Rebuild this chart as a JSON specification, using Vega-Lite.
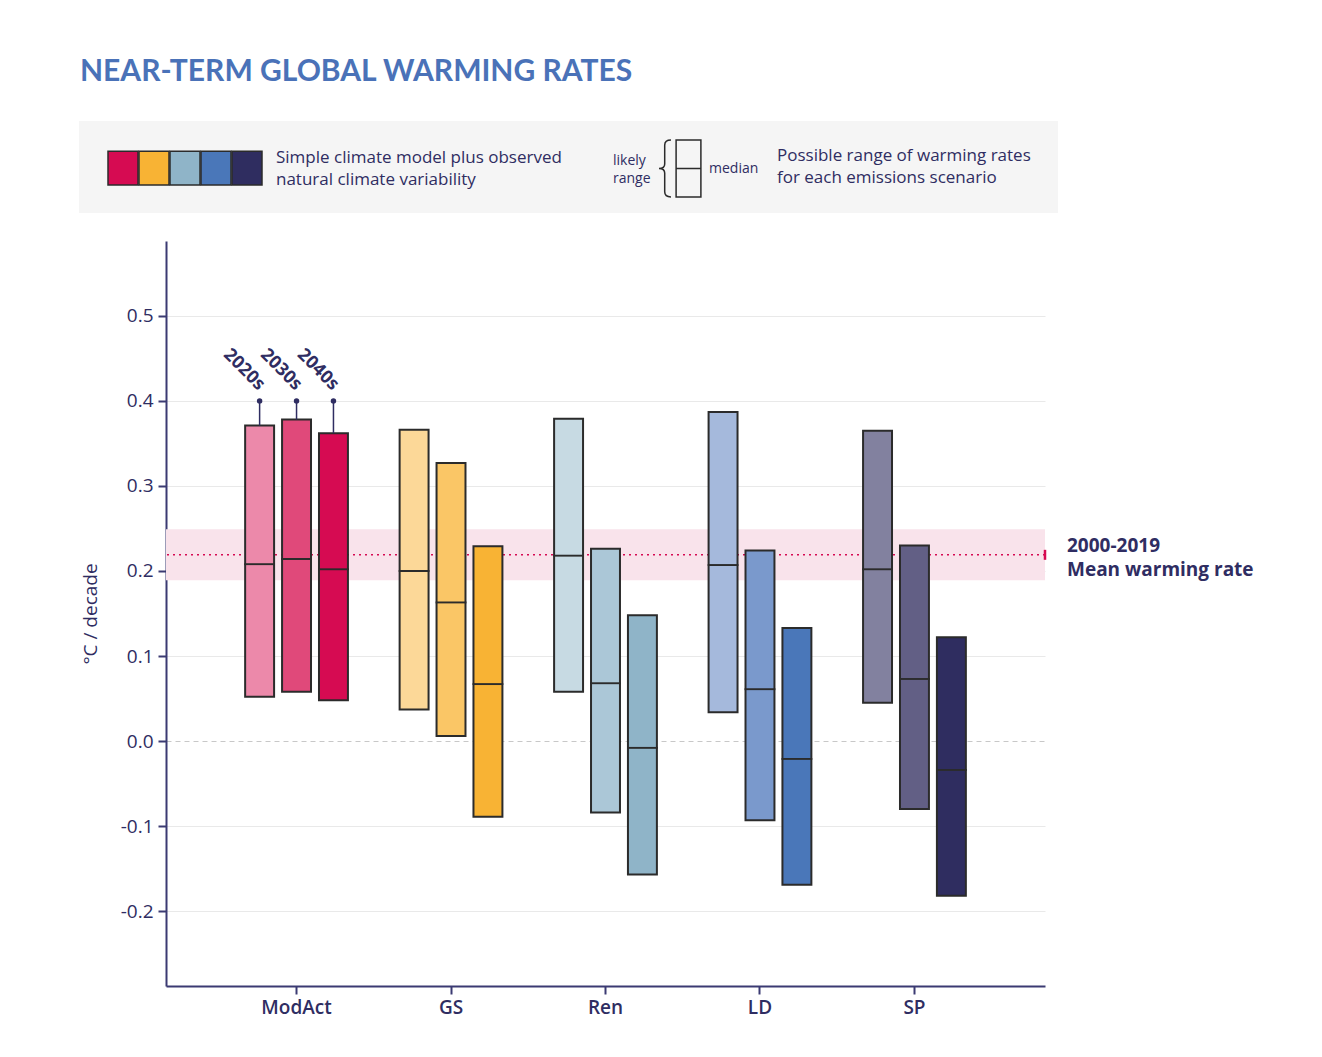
{
  "$schema": "https://vega.github.io/schema/vega-lite/v6.json",
  "width": 879,
  "height": 745,
  "autosize": {"type": "none"},
  "padding": {"left": 166, "top": 241, "right": 277, "bottom": 71},
  "background": "white",
  "config": {"view": {"stroke": null}, "font": "Open Sans"},
  "title": {
    "text": "NEAR-TERM GLOBAL WARMING RATES",
    "anchor": "start",
    "frame": "group",
    "dx": -86,
    "offset": 10,
    "font": "Lato",
    "fontSize": 30,
    "fontWeight": "bold",
    "color": "#4a72b8",
    "baseline": "alphabetic"
  },
  "data": {
    "values": [
      {"scenario": "ModAct", "decade": "2020s", "group": "ModAct 2020s", "lo": 0.052, "hi": 0.371, "med": 0.208},
      {"scenario": "ModAct", "decade": "2030s", "group": "ModAct 2030s", "lo": 0.058, "hi": 0.378, "med": 0.214},
      {"scenario": "ModAct", "decade": "2040s", "group": "ModAct 2040s", "lo": 0.048, "hi": 0.362, "med": 0.202},
      {"scenario": "GS", "decade": "2020s", "group": "GS 2020s", "lo": 0.037, "hi": 0.366, "med": 0.200},
      {"scenario": "GS", "decade": "2030s", "group": "GS 2030s", "lo": 0.006, "hi": 0.327, "med": 0.163},
      {"scenario": "GS", "decade": "2040s", "group": "GS 2040s", "lo": -0.089, "hi": 0.229, "med": 0.067},
      {"scenario": "Ren", "decade": "2020s", "group": "Ren 2020s", "lo": 0.058, "hi": 0.379, "med": 0.218},
      {"scenario": "Ren", "decade": "2030s", "group": "Ren 2030s", "lo": -0.084, "hi": 0.226, "med": 0.068},
      {"scenario": "Ren", "decade": "2040s", "group": "Ren 2040s", "lo": -0.157, "hi": 0.148, "med": -0.008},
      {"scenario": "LD", "decade": "2020s", "group": "LD 2020s", "lo": 0.034, "hi": 0.387, "med": 0.207},
      {"scenario": "LD", "decade": "2030s", "group": "LD 2030s", "lo": -0.093, "hi": 0.224, "med": 0.061},
      {"scenario": "LD", "decade": "2040s", "group": "LD 2040s", "lo": -0.169, "hi": 0.133, "med": -0.021},
      {"scenario": "SP", "decade": "2020s", "group": "SP 2020s", "lo": 0.045, "hi": 0.365, "med": 0.202},
      {"scenario": "SP", "decade": "2030s", "group": "SP 2030s", "lo": -0.080, "hi": 0.230, "med": 0.073},
      {"scenario": "SP", "decade": "2040s", "group": "SP 2040s", "lo": -0.182, "hi": 0.122, "med": -0.034}
    ]
  },
  "layer": [
    {
      "data": {"values": [{"label": "2000-2019 mean warming rate range"}]},
      "mark": {"type": "rect"},
      "encoding": {
        "y": {"datum": 0.189, "type": "quantitative", "scale": {"domain": [-0.288, 0.588], "nice": false, "zero": false}},
        "y2": {"datum": 0.249},
        "fill": {
          "datum": "band",
          "scale": {"range": ["#f9e3eb"]},
          "legend": {
            "orient": "none",
            "legendX": -87,
            "legendY": -120,
            "padding": 27,
            "fillColor": "#f5f5f5",
            "title": ["Possible range of warming rates", "for each emissions scenario"],
            "titleOrient": "right",
            "titleAngle": 0,
            "titleLimit": 600,
            "titleFont": "Open Sans",
            "titleFontSize": 17,
            "titleFontWeight": "normal",
            "titleColor": "#2f2d62",
            "titleLineHeight": 22,
            "titlePadding": 0,
            "titleAnchor": "start",
            "titleBaseline": "top",
            "symbolSize": 0,
            "symbolOpacity": 0,
            "symbolStrokeWidth": 0,
            "labelExpr": "''",
            "labelFontSize": 1,
            "labelOffset": 670,
            "zindex": 0
          }
        }
      }
    },
    {
      "data": {"values": [{"label": "2000-2019 mean warming rate"}]},
      "mark": {"type": "rule", "color": "#d60b52", "strokeDash": [2, 4], "strokeWidth": 1.5},
      "encoding": {
        "y": {"datum": 0.219, "type": "quantitative"}
      }
    },
    {
      "data": {"values": [{"label": "2000-2019 mean warming rate"}]},
      "mark": {"type": "tick", "orient": "vertical", "color": "#d60b52", "thickness": 2.5, "size": 10, "opacity": 1},
      "encoding": {
        "x": {"value": "width"},
        "y": {"datum": 0.219, "type": "quantitative"}
      }
    },
    {
      "mark": {"type": "bar", "stroke": "#2b2b2b", "strokeWidth": 2},
      "encoding": {
        "x": {
          "field": "scenario",
          "type": "nominal",
          "sort": ["ModAct", "GS", "Ren", "LD", "SP"],
          "scale": {"paddingInner": 0, "paddingOuter": 0.345},
          "axis": {
            "title": null,
            "labelAngle": 0,
            "labelFont": "Open Sans",
            "labelFontSize": 19,
            "labelFontWeight": 600,
            "labelColor": "#2f2d62",
            "labelPadding": 4,
            "domainColor": "#3b3a72",
            "domainWidth": 2,
            "tickColor": "#3b3a72",
            "tickWidth": 2,
            "tickSize": 8,
            "grid": false
          }
        },
        "xOffset": {
          "field": "decade",
          "type": "nominal",
          "sort": ["2020s", "2030s", "2040s"],
          "scale": {"paddingInner": 0.216, "paddingOuter": 0.7}
        },
        "y": {
          "field": "lo",
          "type": "quantitative",
          "scale": {"domain": [-0.288, 0.588], "nice": false, "zero": false},
          "axis": {
            "title": "°C / decade",
            "values": [-0.2, -0.1, 0, 0.1, 0.2, 0.3, 0.4, 0.5],
            "labelExpr": "datum.value < 0 ? '-' + format(-datum.value, '.1f') : format(datum.value, '.1f')",
            "labelFont": "Open Sans",
            "labelFontSize": 19,
            "labelColor": "#2f2d62",
            "labelPadding": 5,
            "tickSize": 8,
            "tickColor": "#3b3a72",
            "tickWidth": 2,
            "domainColor": "#3b3a72",
            "domainWidth": 2,
            "grid": true,
            "gridColor": {"condition": {"test": "datum.value === 0", "value": "#c8c8c8"}, "value": "#e9e9e9"},
            "gridDash": {"condition": {"test": "datum.value === 0", "value": [5, 4]}, "value": []},
            "gridWidth": 1,
            "titleFont": "Open Sans",
            "titleFontSize": 19,
            "titleFontWeight": "normal",
            "titleColor": "#2f2d62",
            "titlePadding": 20
          }
        },
        "y2": {"field": "hi"},
        "color": {
          "field": "group",
          "type": "nominal",
          "scale": {
            "domain": ["ModAct 2020s", "ModAct 2030s", "ModAct 2040s", "GS 2020s", "GS 2030s", "GS 2040s", "Ren 2020s", "Ren 2030s", "Ren 2040s", "LD 2020s", "LD 2030s", "LD 2040s", "SP 2020s", "SP 2030s", "SP 2040s"],
            "range": ["#ec89aa", "#e0497a", "#d60b52", "#fcd898", "#fac666", "#f8b334", "#c7dae3", "#abc7d7", "#8fb4c8", "#a5b9dc", "#7a99cc", "#4a77b9", "#82819f", "#625f85", "#2f2d60"]
          },
          "legend": {
            "orient": "none",
            "legendX": -56,
            "legendY": -91,
            "padding": 0,
            "fillColor": "transparent",
            "direction": "horizontal",
            "values": ["ModAct 2040s", "GS 2040s", "Ren 2040s", "LD 2040s", "SP 2040s"],
            "labelExpr": "''",
            "labelOffset": 0,
            "columnPadding": -7,
            "symbolType": "M-1.25,-0.98H1.25V1.82H-1.25Z",
            "symbolSize": 576,
            "symbolOpacity": 1,
            "title": ["Simple climate model plus observed", "natural climate variability"],
            "titleOrient": "right",
            "titleAngle": 0,
            "titleLimit": 600,
            "titleFont": "Open Sans",
            "titleFontSize": 17,
            "titleFontWeight": "normal",
            "titleColor": "#2f2d62",
            "titleLineHeight": 22,
            "titlePadding": 11,
            "titleAnchor": "start",
            "titleBaseline": "top",
            "zindex": 1,
            "encode": {"symbols": {"update": {"stroke": {"value": "#1e1e1e"}, "strokeWidth": {"value": 2}}}}
          }
        }
      }
    },
    {
      "mark": {"type": "tick", "filled": false, "thickness": 0.1, "strokeWidth": 1.8, "size": 29, "opacity": 1},
      "encoding": {
        "x": {"field": "scenario", "type": "nominal", "sort": ["ModAct", "GS", "Ren", "LD", "SP"]},
        "xOffset": {"field": "decade", "type": "nominal", "sort": ["2020s", "2030s", "2040s"]},
        "y": {"field": "med", "type": "quantitative"},
        "color": {
          "datum": "median",
          "scale": {"range": ["#2b2b2b"]},
          "legend": {
            "orient": "none",
            "legendX": 447,
            "legendY": -102,
            "padding": 0,
            "fillColor": "transparent",
            "title": ["likely", "range"],
            "titleOrient": "left",
            "titleAngle": 0,
            "titleFont": "Open Sans",
            "titleFontSize": 14,
            "titleFontWeight": "normal",
            "titleColor": "#2f2d62",
            "titleLineHeight": 18,
            "titleAnchor": "middle",
            "titleBaseline": "middle",
            "titlePadding": 7,
            "symbolType": "M-0.4,-1H0.47V1H-0.4Z M-0.4,0H0.47 M-0.58,-1C-0.72,-1 -0.8,-0.95 -0.8,-0.82V-0.16C-0.8,-0.06 -0.86,0 -1,0C-0.86,0 -0.8,0.06 -0.8,0.16V0.82C-0.8,0.95 -0.72,1 -0.58,1",
            "symbolSize": 3249,
            "symbolFillColor": "transparent",
            "symbolStrokeWidth": 1.5,
            "labelOffset": -8,
            "labelFont": "Open Sans",
            "labelFontSize": 14,
            "labelColor": "#2f2d62",
            "zindex": 2
          }
        }
      }
    },
    {
      "transform": [{"filter": "datum.scenario === 'ModAct'"}],
      "mark": {"type": "rule", "color": "#2f2d62", "strokeWidth": 1.5},
      "encoding": {
        "x": {"field": "scenario", "type": "nominal", "sort": ["ModAct", "GS", "Ren", "LD", "SP"]},
        "xOffset": {"field": "decade", "type": "nominal", "sort": ["2020s", "2030s", "2040s"]},
        "y": {"field": "hi", "type": "quantitative"},
        "y2": {"datum": 0.4}
      }
    },
    {
      "transform": [{"filter": "datum.scenario === 'ModAct'"}],
      "mark": {"type": "point", "filled": true, "size": 30, "color": "#2f2d62", "opacity": 1},
      "encoding": {
        "x": {"field": "scenario", "type": "nominal", "sort": ["ModAct", "GS", "Ren", "LD", "SP"]},
        "xOffset": {"field": "decade", "type": "nominal", "sort": ["2020s", "2030s", "2040s"]},
        "y": {"datum": 0.4, "type": "quantitative"}
      }
    },
    {
      "transform": [{"filter": "datum.scenario === 'ModAct'"}],
      "mark": {"type": "text", "angle": 45, "align": "right", "baseline": "middle", "dx": -8, "dy": -11, "font": "Open Sans", "fontSize": 18, "fontWeight": "bold", "color": "#2f2d62"},
      "encoding": {
        "x": {"field": "scenario", "type": "nominal", "sort": ["ModAct", "GS", "Ren", "LD", "SP"]},
        "xOffset": {"field": "decade", "type": "nominal", "sort": ["2020s", "2030s", "2040s"]},
        "y": {"datum": 0.4, "type": "quantitative"},
        "text": {"field": "decade"}
      }
    },
    {
      "data": {"values": [{"note": "2000-2019\nMean warming rate"}]},
      "mark": {"type": "text", "align": "left", "baseline": "middle", "lineBreak": "\n", "dx": 22, "dy": -9, "font": "Open Sans", "fontSize": 19, "fontWeight": "bold", "color": "#2f2d62", "lineHeight": 24},
      "encoding": {
        "x": {"value": "width"},
        "y": {"datum": 0.219, "type": "quantitative"},
        "text": {"field": "note"}
      }
    }
  ],
  "resolve": {"scale": {"color": "independent"}}
}
